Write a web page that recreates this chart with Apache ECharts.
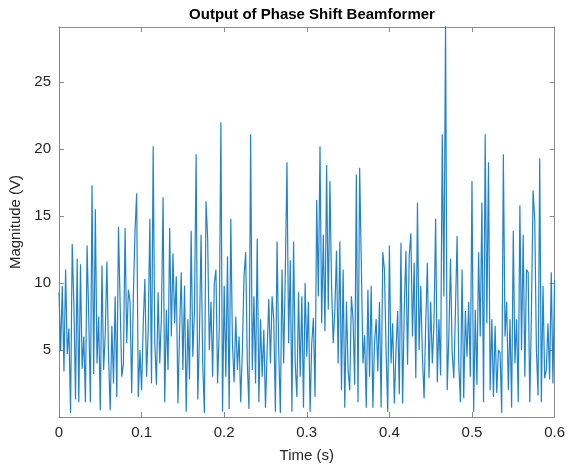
<!DOCTYPE html>
<html>
<head>
<meta charset="utf-8">
<script src="https://cdn.jsdelivr.net/npm/echarts@6/dist/echarts.min.js"></script>
<style>
  html, body { margin: 0; padding: 0; background: #fff; }
  #chart { width: 568px; height: 468px; }
</style>
</head>
<body>
<div id="chart"></div>
<script>
// sample spacing of the beamformer output (s)
var sampleStep = 0.002

// magnitude, one value per sample from t = 0 to t = 0.6
var magnitude = [
  9.3, 4.9, 9.8, 3.4, 11.0, 4.7, 6.6, 0.3, 12.9, 8.5,
  1.3, 11.8, 1.1, 11.4, 3.6, 6.0, 1.1, 12.8, 7.5, 1.1,
  17.3, 3.2, 15.5, 4.0, 7.5, 0.5, 11.3, 3.5, 6.2, 11.6,
  4.5, 0.5, 6.8, 2.5, 9.0, 1.5, 14.2, 8.5, 3.0, 4.0,
  14.1, 5.5, 9.5, 8.6, 1.8, 9.0, 13.8, 16.7, 1.5, 5.0,
  2.0, 7.0, 10.3, 3.0, 6.5, 14.8, 2.5, 20.2, 5.5, 2.4,
  9.3, 4.0, 7.5, 16.4, 1.1, 8.0, 3.5, 14.1, 6.0, 12.2,
  7.0, 10.5, 1.0, 6.5, 10.8, 3.5, 9.8, 0.4, 7.3, 2.8,
  13.9, 4.5, 8.0, 19.6, 1.3, 6.0, 13.6, 4.0, 0.3, 16.1,
  13.3, 5.0, 8.6, 3.0, 10.0, 11.0, 2.5, 6.5, 22.0, 0.4,
  9.8, 3.0, 12.0, 0.6, 14.8, 5.5, 2.6, 7.5, 3.5, 6.0,
  1.1, 5.0, 10.5, 12.3, 4.0, 0.6, 21.1, 3.5, 9.0, 2.5,
  13.3, 1.1, 7.3, 3.0, 6.5, 0.7, 5.0, 8.8, 4.0, 9.0,
  7.3, 0.4, 13.1, 5.0, 0.3, 11.0, 4.0, 10.8, 19.0, 5.5,
  11.7, 0.4, 13.1, 4.0, 1.5, 9.3, 3.0, 9.0, 0.7, 10.0,
  4.5, 8.6, 0.4, 5.5, 7.4, 1.5, 16.2, 9.0, 20.2, 7.0,
  13.6, 6.4, 18.8, 8.0, 17.6, 9.8, 5.5, 8.0, 12.4, 4.0,
  13.1, 2.0, 11.0, 0.7, 8.6, 3.5, 2.0, 9.0, 7.3, 2.4,
  18.1, 1.1, 18.6, 11.5, 4.0, 6.1, 0.7, 9.5, 3.0, 9.8,
  0.7, 5.5, 7.3, 3.4, 8.6, 0.7, 12.3, 11.0, 5.0, 0.4,
  12.8, 4.0, 7.0, 1.0, 5.0, 7.9, 1.7, 13.0, 1.0, 8.0,
  12.4, 3.9, 12.0, 13.7, 6.0, 11.5, 2.9, 16.0, 5.0, 9.8,
  4.5, 1.4, 7.0, 11.5, 2.9, 8.6, 4.0, 7.0, 14.8, 2.6,
  7.3, 3.1, 21.1, 9.0, 29.5, 2.0, 6.0, 11.8, 4.8, 2.9,
  8.0, 13.5, 4.0, 1.1, 11.0, 1.4, 7.9, 4.5, 8.6, 3.0,
  17.6, 0.4, 8.0, 2.4, 12.3, 6.0, 16.0, 1.1, 21.1, 7.0,
  19.0, 2.0, 7.3, 1.5, 6.8, 1.8, 5.0, 4.8, 0.3, 19.6,
  6.0, 8.6, 2.0, 7.3, 0.7, 13.9, 4.0, 7.3, 1.1, 15.8,
  5.0, 13.6, 3.0, 11.0, 10.8, 1.1, 7.9, 16.9, 14.7, 5.0,
  1.6, 19.3, 1.1, 9.8, 2.9, 3.5, 7.0, 2.8, 10.8, 2.5,
  10.2
]

var xTicks = [0, 0.1, 0.2, 0.3, 0.4, 0.5, 0.6]
var yTicks = [5, 10, 15, 20, 25]

var chart = echarts.init(document.getElementById('chart'))

var points = magnitude.map(function (v, i) {
  return [+(i * sampleStep).toFixed(3), v]
})

var frame = { show: true, onZero: false, lineStyle: { color: '#8a8a8a', width: 1 } }
var ticksIn = { show: true, inside: true, length: 5, lineStyle: { color: '#8a8a8a' } }
var labelFont = { color: '#262626', fontSize: 15, fontFamily: 'Liberation Sans, Arial, sans-serif' }

var option = {
  animation: false,
  backgroundColor: '#fff',
  title: {
    text: 'Output of Phase Shift Beamformer',
    left: 307, textAlign: 'center',
    top: 2,
    textStyle: { color: '#000', fontSize: 15, fontWeight: 'bold', fontFamily: 'Liberation Sans, Arial, sans-serif' }
  },
  grid: { left: 59, right: 12, top: 27, bottom: 49 },
  xAxis: [
    {
      type: 'value', min: 0, max: 0.6, interval: 0.1,
      name: 'Time (s)', nameLocation: 'middle', nameGap: 31,
      nameTextStyle: labelFont,
      axisLine: frame, axisTick: ticksIn, splitLine: { show: false },
      axisLabel: Object.assign({ margin: 8, formatter: function (v) {
        var t = xTicks.find(function (k) { return Math.abs(k - v) < 1e-9 })
        return t === undefined ? '' : String(t)
      } }, labelFont)
    },
    {
      type: 'value', position: 'top', min: 0, max: 0.6, interval: 0.1,
      axisLine: frame, axisTick: ticksIn, axisLabel: { show: false }, splitLine: { show: false }
    }
  ],
  yAxis: [
    {
      type: 'value', min: 0, max: 29.1, interval: 5,
      name: 'Magnitude (V)', nameLocation: 'middle', nameGap: 30, nameRotate: 90,
      nameTextStyle: labelFont,
      axisLine: frame, axisTick: ticksIn, splitLine: { show: false },
      axisLabel: Object.assign({ margin: 8, formatter: function (v) {
        return yTicks.indexOf(v) >= 0 ? String(v) : ''
      } }, labelFont)
    },
    {
      type: 'value', position: 'right', min: 0, max: 29.1, interval: 5,
      axisLine: frame, axisTick: ticksIn, axisLabel: { show: false }, splitLine: { show: false }
    }
  ],
  series: [
    {
      type: 'line',
      data: points,
      showSymbol: false,
      clip: true,
      lineStyle: { color: '#2283c8', width: 1.2 }
    }
  ]
}

chart.setOption(option)
</script>
</body>
</html>
